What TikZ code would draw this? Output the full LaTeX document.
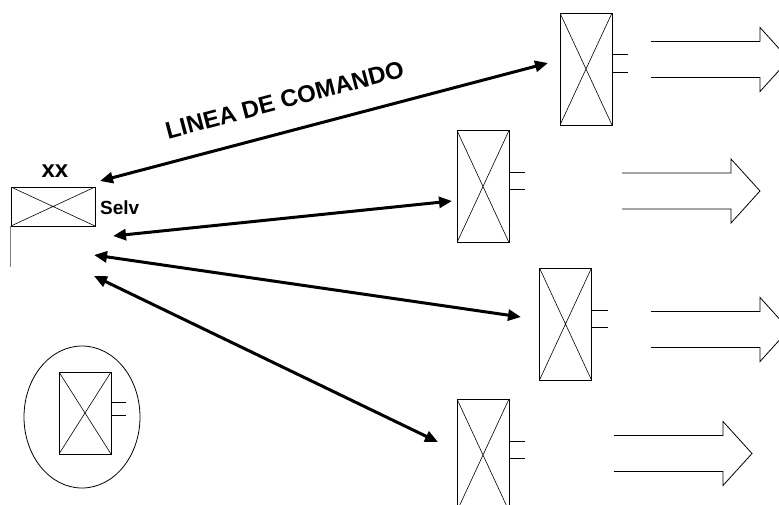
\documentclass[tikz,border=0pt]{standalone}
\usepackage{fontspec}
\setmainfont{Liberation Sans}
\usetikzlibrary{arrows.meta}
\tikzset{
  caja/.style={draw, line width=0.8pt, inner sep=0pt, minimum width=52pt, minimum height=112pt,
    path picture={\draw[line width=0.6pt] (path picture bounding box.north west) -- (path picture bounding box.south east)
      (path picture bounding box.north east) -- (path picture bounding box.south west);}},
  mando/.style={line width=3pt, {Triangle[length=13pt,width=11pt]}-{Triangle[length=13pt,width=11pt]}},
  texto/.style={font=\fontsize{24}{28}\selectfont\bfseries},
  flecha/.pic={\draw[line width=0.8pt] (0,-18) -- (109,-18) -- (109,-32) -- (138,0) -- (109,32) -- (109,18) -- (0,18);}
}
\begin{document}
\begin{tikzpicture}[x=1pt,y=-1pt]
            \clip (0,0) rectangle (779,504);

            % bandera
            \node[caja, minimum width=84pt, minimum height=39pt] (flag) at (53,206.5) {};
            \draw[gray, line width=1pt] (flag.south west) -- ++(0,41);
            \node[texto] (xx) at (55,171) {xx};
            \node[texto, anchor=west, inner sep=0pt, font=\fontsize{19}{23}\selectfont\bfseries] (selv) at (100,208) {Selv};

            % interruptores
            \node[caja] (b1) at (586,69) {};
            \node[caja] (b2) at (483,186.5) {};
            \node[caja] (b3) at (565.5,324) {};
            \node[caja] (b4) at (483,455) {};
            \draw[line width=0.8pt] (b1.north east) ++(0,42) -- ++(16,0) (b1.north east) ++(0,60) -- ++(16,0);
            \draw[line width=0.8pt] (b2.north east) ++(0,42) -- ++(16,0) (b2.north east) ++(0,59) -- ++(16,0);
            \draw[line width=0.8pt] (b3.north east) ++(0,43) -- ++(16,0) (b3.north east) ++(0,60) -- ++(16,0);
            \draw[line width=0.8pt] (b4.north east) ++(0,43) -- ++(16,0) (b4.north east) ++(0,60) -- ++(16,0);

            % salidas
            \pic at (651,59.5) {flecha};
            \pic at (622,191) {flecha};
            \pic at (651,329.5) {flecha};
            \pic at (614,453.5) {flecha};

            % lineas de comando
            \coordinate (i1) at (100,181);  \coordinate (d1) at (548,63);
            \coordinate (i2) at (113,236);  \coordinate (d2) at (452,201);
            \coordinate (i3) at (94,255);   \coordinate (d3) at (521,317);
            \coordinate (i4) at (94,276);   \coordinate (d4) at (438,442);
            \draw[mando] (i1) -- node[texto, sloped, above=18pt, pos=0.43] (cmd) {LINEA DE COMANDO} (d1);
            \draw[mando] (i2) -- (d2);
            \draw[mando] (i3) -- (d3);
            \draw[mando] (i4) -- (d4);

            % reserva
            \draw[line width=0.8pt] (82,417) ellipse [x radius=58, y radius=71];
            \node[caja, minimum height=82pt] (b5) at (85,413) {};
            \draw[line width=0.8pt] (b5.north east) ++(0,31) -- ++(15,0) (b5.north east) ++(0,44) -- ++(15,0);
\end{tikzpicture}
\end{document}
